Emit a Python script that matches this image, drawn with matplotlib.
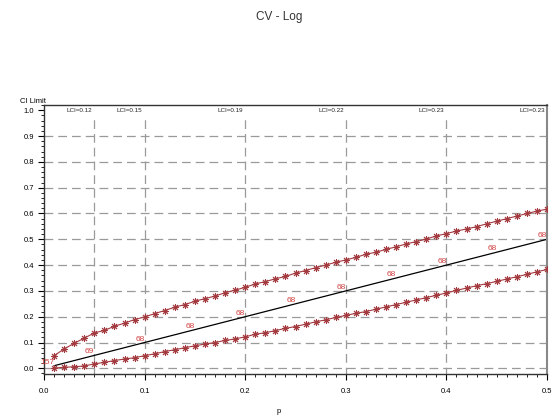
import matplotlib
matplotlib.use("Agg")
import matplotlib.pyplot as plt
from matplotlib.ticker import MultipleLocator, FormatStrFormatter

plt.rcParams["font.family"] = ["Liberation Sans", "DejaVu Sans"]

# proportions p (x axis)
p = [0.01, 0.02, 0.03, 0.04, 0.05, 0.06, 0.07, 0.08, 0.09, 0.10,
     0.11, 0.12, 0.13, 0.14, 0.15, 0.16, 0.17, 0.18, 0.19, 0.20,
     0.21, 0.22, 0.23, 0.24, 0.25, 0.26, 0.27, 0.28, 0.29, 0.30,
     0.31, 0.32, 0.33, 0.34, 0.35, 0.36, 0.37, 0.38, 0.39, 0.40,
     0.41, 0.42, 0.43, 0.44, 0.45, 0.46, 0.47, 0.48, 0.49, 0.50]

# upper CI limit
upper = [0.049, 0.075, 0.097, 0.117, 0.137, 0.147, 0.163, 0.175, 0.189, 0.199,
         0.212, 0.224, 0.237, 0.247, 0.260, 0.270, 0.280, 0.293, 0.303, 0.314,
         0.327, 0.336, 0.347, 0.356, 0.369, 0.379, 0.390, 0.400, 0.411, 0.420,
         0.430, 0.442, 0.450, 0.461, 0.471, 0.482, 0.491, 0.501, 0.513, 0.522,
         0.532, 0.540, 0.549, 0.560, 0.570, 0.580, 0.590, 0.600, 0.609, 0.617]

# lower CI limit
lower = [0.001, 0.004, 0.006, 0.009, 0.017, 0.023, 0.030, 0.036, 0.041, 0.049,
         0.056, 0.065, 0.072, 0.080, 0.087, 0.094, 0.100, 0.108, 0.114, 0.122,
         0.132, 0.138, 0.146, 0.155, 0.162, 0.171, 0.180, 0.188, 0.197, 0.205,
         0.213, 0.220, 0.229, 0.238, 0.247, 0.256, 0.265, 0.274, 0.283, 0.292,
         0.302, 0.311, 0.320, 0.328, 0.337, 0.346, 0.355, 0.364, 0.374, 0.383]

# sample size labels on the estimate line
n_p = [0.01, 0.05, 0.10, 0.15, 0.20, 0.25, 0.30, 0.35, 0.40, 0.45, 0.50]
n_lab = ["157", "69", "68", "68", "68", "68", "68", "68", "68", "68", "68"]

# reference lines with lower CI values
ref_p = [0.05, 0.1, 0.2, 0.3, 0.4, 0.5]
ref_lab = ["LCI=0.12", "LCI=0.15", "LCI=0.19", "LCI=0.22", "LCI=0.23", "LCI=0.23"]

red = "#a33a3f"
grid_col = "#9a9a9a"

fig = plt.figure(figsize=(5.58, 4.16), dpi=100)
ax = fig.add_axes([0.0789, 0.101, 0.9014, 0.6466])

for yy in [0.0, 0.1, 0.2, 0.3, 0.4, 0.5, 0.6, 0.7, 0.8, 0.9]:
    ax.axhline(yy, color=grid_col, lw=0.9, dashes=(7, 4), zorder=1)
for xx, lab in zip(ref_p, ref_lab):
    ax.plot([xx, xx], [-0.03, 0.975], color=grid_col, lw=0.9, dashes=(7, 4), zorder=1)
    ax.text(xx - 0.002, 1.0, lab, fontsize=4.5, ha="right", va="center", color="#222222")

ax.plot(p, upper, color=red, lw=0.8, marker=(8, 2, 0), ms=5, mew=0.7, zorder=3)
ax.plot(p, lower, color=red, lw=0.8, marker=(8, 2, 0), ms=5, mew=0.7, zorder=3)
ax.plot(p, p, color="black", lw=0.9, zorder=2)

for xx, lab in zip(n_p, n_lab):
    ax.annotate(lab, (xx, xx), xytext=(0, 0), textcoords="offset points",
                fontsize=6, color="#d04040", ha="right", va="bottom", zorder=4)

ax.set_xlim(0, 0.5)
ax.set_ylim(-0.022, 1.0205)
ax.xaxis.set_major_locator(MultipleLocator(0.1))
ax.xaxis.set_minor_locator(MultipleLocator(0.01))
ax.yaxis.set_major_locator(MultipleLocator(0.1))
ax.yaxis.set_minor_locator(MultipleLocator(0.02))
ax.xaxis.set_major_formatter(FormatStrFormatter("%.1f"))
ax.yaxis.set_major_formatter(FormatStrFormatter("%.1f"))
ax.tick_params(which="major", length=4, width=0.8, labelsize=5.5, pad=6)
ax.tick_params(axis="y", which="major", pad=3)
ax.tick_params(which="minor", length=2.5, width=0.6)
for s in ax.spines.values():
    s.set_color("#333333")
    s.set_linewidth(1.0)
ax.spines["right"].set_color("#888888")
ax.spines["right"].set_linewidth(1.5)

fig.text(0.5, 0.96, "CV - Log", ha="center", va="center", fontsize=8.5, color="#333333")
fig.text(0.036, 0.757, "CI Limit", ha="left", va="center", fontsize=5.5)
fig.text(0.5, 0.012, "p", ha="center", va="center", fontsize=5.5)

fig.savefig("out.png", dpi=100)
